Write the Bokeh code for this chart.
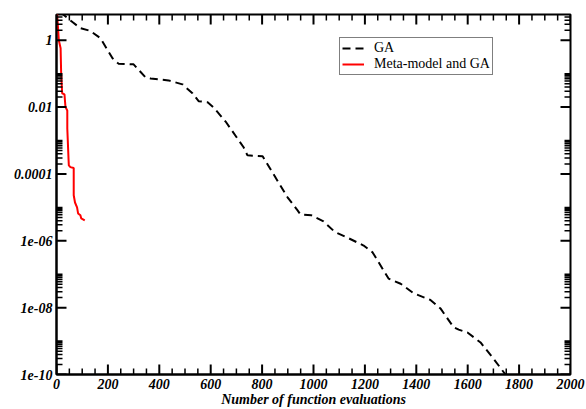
import math
import json
from bokeh.plotting import figure
from bokeh.models import (FixedTicker, Legend, LegendItem, CustomJSTickFormatter, Range1d)
from bokeh.embed import file_html
from bokeh.resources import INLINE

# ---- data ----
ga_x = [15, 62, 93, 132, 171, 218, 241, 300, 346, 366, 436, 490, 529, 553, 588,
        611, 658, 728, 743, 802, 899, 938, 949, 992, 1039, 1078, 1093, 1136, 1195,
        1230, 1280, 1292, 1339, 1389, 1455, 1494, 1545, 1565, 1599, 1650, 1697,
        1747, 1770]
ga_y = [6.9, 3.5, 2.3, 1.9, 1.15, 0.29, 0.2, 0.19, 0.078, 0.072, 0.063, 0.048,
        0.026, 0.015, 0.014, 0.0098, 0.0037, 6.3e-4, 3.6e-4, 3.4e-4, 2.0e-5,
        8.1e-6, 6.2e-6, 5.8e-6, 3.8e-6, 2.0e-6, 1.7e-6, 1.2e-6, 7.2e-7, 4.5e-7,
        1.05e-7, 7.4e-8, 5.2e-8, 2.7e-8, 1.7e-8, 9.5e-9, 2.6e-9, 2.2e-9, 1.8e-9,
        9.1e-10, 3.2e-10, 1.0e-10, 6.3e-11]

meta_x = [2, 9, 16, 18, 22, 31, 35, 42, 42, 47, 48, 54, 67, 67, 72, 80, 84, 93, 96, 110]
meta_y = [6.9, 1.0, 0.58, 0.11, 0.026, 0.024, 0.01, 0.0079, 0.0023, 2.6e-4,
          1.8e-4, 1.6e-4, 1.5e-4, 2.3e-5, 1.4e-5, 1.0e-5, 6.6e-6, 5.8e-6,
          4.7e-6, 4.1e-6]

series_names = ["GA", "Meta-model and GA"]

x_ticks = [0, 200, 400, 600, 800, 1000, 1200, 1400, 1600, 1800, 2000]
x_minor = [v for v in range(0, 2001, 50) if v % 200 != 0]
y_ticks = [1e-10, 1e-8, 1e-6, 1e-4, 1e-2, 1.0]
y_exps = [-10, -8, -6, -4, -2, 0]
y_labels = ["1e-10", "1e-08", "1e-06", "0.0001", "0.01", "1"]
y_minor = [t * m for t in y_ticks for m in range(2, 11)]

x_label = "Number of function evaluations"

FONT = "Liberation Serif"
X0, X1 = 0, 2000
Y0, Y1 = 1e-10, 5.9

W, H = 586, 409
BL, BR, BT, BB = 56, 16, 14, 35

p = figure(width=W, height=H, output_backend="svg", toolbar_location=None,
           y_axis_type="log", x_range=Range1d(X0, X1), y_range=Range1d(Y0, Y1),
           min_border_left=BL, min_border_right=BR, min_border_top=BT,
           min_border_bottom=BB)
p.outline_line_color = "black"
p.outline_line_width = 2
p.grid.visible = False

xt = FixedTicker(ticks=x_ticks)
yt = FixedTicker(ticks=y_ticks)

for ax in (p.xaxis[0], p.yaxis[0]):
    ax.axis_line_color = "black"
    ax.axis_line_width = 2
    ax.major_tick_in = 0
    ax.major_tick_out = 0
    ax.minor_tick_in = 0
    ax.minor_tick_out = 0
    ax.major_label_text_font = FONT
    ax.major_label_text_font_style = "bold italic"
    ax.major_label_text_font_size = "14px"
    ax.major_label_text_color = "black"
    ax.major_label_standoff = 4

xa = p.xaxis[0]
xa.ticker = xt
xa.axis_label = x_label
xa.axis_label_text_font = FONT
xa.axis_label_text_font_style = "bold italic"
xa.axis_label_text_font_size = "14px"
xa.axis_label_text_color = "black"
xa.axis_label_standoff = 0

ya = p.yaxis[0]
ya.ticker = yt
label_map = {str(e): lab for e, lab in zip(y_exps, y_labels)}
ya.formatter = CustomJSTickFormatter(code="""
const m = %s;
const e = String(Math.round(Math.log10(tick)));
return (e in m) ? m[e] : String(tick);
""" % json.dumps(label_map))

r_ga = p.line(ga_x, ga_y, line_color="black", line_width=2, line_dash="8 5")
r_meta = p.line(meta_x, meta_y, line_color="red", line_width=2)

# inward ticks on all four frame edges, drawn as NaN-separated lines
fw = W - BL - BR
fh = H - BT - BB
px_x = (X1 - X0) / fw
dec_px = fh / (math.log10(Y1) - math.log10(Y0))
NAN = float("nan")


def yfac(px):
    return 10 ** (px / dec_px)


def xtick_path(ticks, ln):
    xs, ys = [], []
    for t in ticks:
        xs += [t, t, NAN, t, t, NAN]
        ys += [Y0, Y0 * yfac(ln), NAN, Y1, Y1 / yfac(ln), NAN]
    return xs, ys


def ytick_path(ticks, ln):
    xs, ys = [], []
    for t in ticks:
        if t > Y1:
            continue
        xs += [X0, X0 + ln * px_x, NAN, X1, X1 - ln * px_x, NAN]
        ys += [t, t, NAN, t, t, NAN]
    return xs, ys


for fn, ticks, ln, lw in ((xtick_path, x_ticks, 10, 2), (xtick_path, x_minor, 6, 1.5),
                          (ytick_path, y_ticks, 10, 2), (ytick_path, y_minor, 6, 1.5)):
    xs, ys = fn(ticks, ln)
    p.line(xs, ys, line_color="black", line_width=lw)

legend = Legend(items=[LegendItem(label=series_names[0], renderers=[r_ga]),
                       LegendItem(label=series_names[1], renderers=[r_meta])],
                location=(283, 299))
legend.label_text_font = FONT
legend.label_text_font_size = "14px"
legend.label_text_color = "black"
legend.border_line_color = "black"
legend.border_line_width = 1
legend.background_fill_color = "white"
legend.background_fill_alpha = 1
legend.padding = 2
legend.spacing = 0
legend.margin = 0
legend.label_height = 16
legend.glyph_height = 16
legend.glyph_width = 22
legend.label_standoff = 10
p.add_layout(legend, "center")

open("out.html", "w").write(file_html(p, INLINE))
